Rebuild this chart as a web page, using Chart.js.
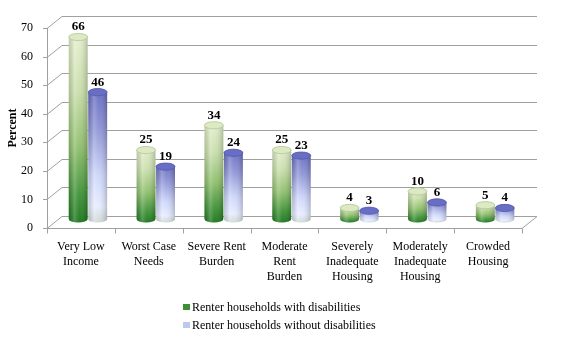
<!DOCTYPE html>
<html>
<head>
<meta charset="utf-8">
<script src="https://cdn.jsdelivr.net/npm/chart.js@4/dist/chart.umd.min.js"></script>
<style>
  html, body { margin: 0; padding: 0; background: #ffffff; }
  #wrap { width: 580px; height: 340px; }
</style>
</head>
<body>
<div id="wrap"><canvas id="c"></canvas></div>
<script>
// Housing problems of renter households, percent
const categories = [
  ["Very Low", "Income"],
  ["Worst Case", "Needs"],
  ["Severe Rent", "Burden"],
  ["Moderate", "Rent", "Burden"],
  ["Severely", "Inadequate", "Housing"],
  ["Moderately", "Inadequate", "Housing"],
  ["Crowded", "Housing"]
];
const withDisabilities = [66, 25, 34, 25, 4, 10, 5];
const withoutDisabilities = [46, 19, 24, 23, 3, 6, 4];
const seriesNames = ["Renter households with disabilities", "Renter households without disabilities"];
const yMin = 0, yMax = 70, yStep = 10;

const SERIF = '"Liberation Serif", "Times New Roman", serif';
const GRID = '#a0a0a0';
const DEPTH_X = 15, DEPTH_Y = 12;      // back wall offset
const BAR_DX = 7, BAR_DY = 9;          // bars sit midway in depth
const BAR_SCALE = 0.965;               // slight perspective shrink at bar depth
const CAP_RY = 3.6;

const seriesStyle = [
  {
    stops: [[0, '#e6efcf'], [0.3, '#c9deab'], [0.6, '#8fbf6d'], [0.85, '#3f9237'], [1, '#1c761c']],
    cap: '#dce9c2', capStroke: '#b3c895', legend: '#3c8f34'
  },
  {
    stops: [[0, '#646abf'], [0.3, '#8e94d6'], [0.65, '#cdd6fa'], [0.88, '#e6ecff'], [1, '#cfd9d3']],
    cap: '#686ec3', capStroke: '#555bb0', legend: '#bcc7f2'
  }
];

function cylinderPath(ctx, cx, hw, yt, yb, ry) {
  ctx.beginPath();
  ctx.moveTo(cx - hw, yt);
  ctx.lineTo(cx - hw, yb);
  ctx.ellipse(cx, yb, hw, ry, 0, Math.PI, 0, true);
  ctx.lineTo(cx + hw, yt);
  ctx.ellipse(cx, yt, hw, ry, 0, 0, Math.PI, true);
  ctx.closePath();
}

function drawCylinder(ctx, cx, hw, yt, yb, style) {
  const ry = CAP_RY;
  const vg = ctx.createLinearGradient(0, yt - ry, 0, yb + ry);
  style.stops.forEach(([o, c]) => vg.addColorStop(o, c));
  cylinderPath(ctx, cx, hw, yt, yb, ry);
  ctx.fillStyle = vg;
  ctx.fill();
  // round shading across the body
  const hg = ctx.createLinearGradient(cx - hw, 0, cx + hw, 0);
  hg.addColorStop(0, 'rgba(0,0,0,0.14)');
  hg.addColorStop(0.3, 'rgba(255,255,255,0.22)');
  hg.addColorStop(0.55, 'rgba(255,255,255,0.04)');
  hg.addColorStop(1, 'rgba(0,0,0,0.20)');
  cylinderPath(ctx, cx, hw, yt, yb, ry);
  ctx.fillStyle = hg;
  ctx.fill();
  // top cap
  ctx.beginPath();
  ctx.ellipse(cx, yt, hw, ry, 0, 0, Math.PI * 2);
  ctx.fillStyle = style.cap;
  ctx.fill();
  ctx.lineWidth = 0.8;
  ctx.strokeStyle = style.capStroke;
  ctx.stroke();
}

// Back wall, floor and front axis lines
const wallPlugin = {
  id: 'wall',
  beforeDatasetsDraw(chart) {
    const { ctx, chartArea: a, scales: { y } } = chart;
    ctx.save();
    ctx.strokeStyle = GRID;
    ctx.lineWidth = 1;
    for (let v = yMin; v <= yMax; v += yStep) {
      const py = Math.round(y.getPixelForValue(v)) + 0.5;
      const by = py - DEPTH_Y;
      ctx.beginPath();
      ctx.moveTo(a.left - 4, py);
      ctx.lineTo(a.left, py);
      ctx.lineTo(a.left + DEPTH_X, by);
      ctx.lineTo(a.right + DEPTH_X, by);
      ctx.stroke();
    }
    // front vertical axis
    ctx.beginPath();
    ctx.moveTo(a.left + 0.5, Math.round(y.getPixelForValue(yMax)));
    ctx.lineTo(a.left + 0.5, Math.round(y.getPixelForValue(yMin)) + 0.5);
    ctx.stroke();
    // floor front edge and right edge
    const fy = Math.round(y.getPixelForValue(yMin)) + 0.5;
    ctx.beginPath();
    ctx.moveTo(a.left, fy);
    ctx.lineTo(a.right, fy);
    ctx.lineTo(a.right + DEPTH_X, fy - DEPTH_Y);
    ctx.stroke();
    // category separators
    const n = categories.length;
    const step = (a.right - a.left) / n;
    for (let i = 0; i <= n; i++) {
      const px = Math.round(a.left + step * i) + 0.5;
      ctx.beginPath();
      ctx.moveTo(px, fy);
      ctx.lineTo(px, fy + 5);
      ctx.stroke();
    }
    ctx.restore();
  }
};

// Cylinders and value labels, built from the bar elements
const cylinderPlugin = {
  id: 'cylinders',
  afterDatasetsDraw(chart) {
    const { ctx } = chart;
    ctx.save();
    const labels = [];
    chart.data.datasets.forEach((ds, di) => {
      const meta = chart.getDatasetMeta(di);
      meta.data.forEach((el, i) => {
        const p = el.getProps(['x', 'y', 'base', 'width'], true);
        const cx = p.x + BAR_DX;
        const hw = p.width / 2 - 0.3;
        const yb = p.base - BAR_DY;
        const yt = yb - (p.base - p.y) * BAR_SCALE;
        drawCylinder(ctx, cx, hw, yt, yb, seriesStyle[di]);
        labels.push({ x: cx, y: yt - CAP_RY - 3, text: String(ds.data[i]) });
      });
    });
    ctx.fillStyle = '#000';
    ctx.font = 'bold 13px ' + SERIF;
    ctx.textAlign = 'center';
    ctx.textBaseline = 'alphabetic';
    labels.forEach(l => ctx.fillText(l.text, l.x, l.y));
    ctx.restore();
  }
};

// Two-row legend under the axis labels
const legendPlugin = {
  id: 'legendRows',
  afterDraw(chart) {
    const { ctx } = chart;
    ctx.save();
    ctx.font = '12px ' + SERIF;
    ctx.textBaseline = 'middle';
    ctx.textAlign = 'left';
    const x0 = 183, rows = [307, 325];
    chart.data.datasets.forEach((ds, di) => {
      const yy = rows[di];
      ctx.fillStyle = seriesStyle[di].legend;
      ctx.fillRect(x0, yy - 3, 7, 6);
      ctx.fillStyle = '#000';
      ctx.fillText(ds.label, x0 + 9, yy + 0.5);
    });
    ctx.restore();
  }
};

new Chart(document.getElementById('c'), {
  type: 'bar',
  data: {
    labels: categories,
    datasets: [
      { label: seriesNames[0], data: withDisabilities, backgroundColor: 'rgba(0,0,0,0)' },
      { label: seriesNames[1], data: withoutDisabilities, backgroundColor: 'rgba(0,0,0,0)' }
    ]
  },
  options: {
    responsive: true,
    maintainAspectRatio: false,
    animation: false,
    events: [],
    layout: { padding: { top: 28, right: 58, bottom: 0, left: 0 } },
    datasets: { bar: { categoryPercentage: 0.575, barPercentage: 1.0 } },
    plugins: { legend: { display: false }, tooltip: { enabled: false } },
    scales: {
      x: {
        grid: { display: false, drawTicks: false },
        border: { display: false },
        ticks: {
          color: '#000',
          font: { family: SERIF, size: 12, lineHeight: 1.25 },
          padding: 11,
          maxRotation: 0,
          autoSkip: false
        },
        afterFit(scale) { scale.height = 112; }
      },
      y: {
        min: yMin,
        max: yMax,
        grid: { display: false, drawTicks: false },
        border: { display: false },
        ticks: {
          stepSize: yStep,
          color: '#000',
          font: { family: SERIF, size: 12 },
          padding: 14
        },
        title: {
          display: true,
          text: 'Percent',
          color: '#000',
          font: { family: SERIF, size: 12, weight: 'bold' },
          padding: { top: 6, bottom: 0 }
        },
        afterFit(scale) { scale.width = 47; }
      }
    }
  },
  plugins: [wallPlugin, cylinderPlugin, legendPlugin]
});
</script>
</body>
</html>
